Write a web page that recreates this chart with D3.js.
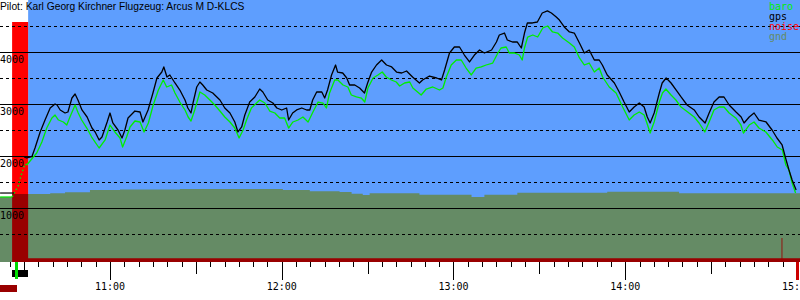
<!DOCTYPE html>
<html><head><meta charset="utf-8">
<script src="https://cdn.jsdelivr.net/npm/d3@7"></script>
<style>html,body{margin:0;padding:0;background:#fff;overflow:hidden}</style>
</head><body><svg id="c" width="800" height="300"></svg>
<script>
const title = "Pilot: Karl Georg Kirchner Flugzeug: Arcus M D-KLCS";
const legendNames = ["baro","gps","noise","gnd"];
const legendColors = ["#00ee00","#000000","#ff0000","#658b65"];
const altSolid = [1000,2000,3000,4000];
const altDashed = [500,1500,2500,3500,4500];
const altLabels = ["1000","2000","3000","4000"];
const hourLabels = ["11:00","12:00","13:00","14:00","15:00"];
// time values: minutes after 10:00, altitude in m
const gpsGround = [[21.6,1288],[26.5,1288]];
const baroGround = [[21.6,1212],[25.8,1212]];
const baroClimb = [[25.8,1212],[27.9,1423],[29.3,1692],[30.3,1846],[30.9,1827]];
const gps = [[30.0,1981],[30.9,1962],[32.7,1987],[33.8,2154],[35.6,2462],[37.3,2692],[39.1,2923],[40.8,3000],[41.5,2981],[42.6,2885],[44.3,2827],[45.3,2846],[46.7,3115],[47.8,3192],[48.8,3077],[50.2,2885],[52.0,2750],[53.7,2538],[54.8,2462],[56.2,2308],[57.2,2365],[59.0,2654],[60.0,2827],[61.0,2635],[62.8,2500],[64.2,2346],[65.2,2500],[66.3,2731],[68.7,2865],[70.5,2846],[71.5,2654],[73.3,2885],[75.0,3212],[76.4,3500],[78.1,3615],[78.8,3712],[79.9,3519],[80.9,3558],[82.7,3404],[84.4,3269],[86.2,3077],[87.2,2923],[88.3,2827],[89.0,3019],[90.3,3327],[91.4,3423],[92.4,3365],[93.8,3269],[95.9,3212],[96.6,3173],[98.4,3077],[100.1,2923],[101.9,2827],[103.6,2654],[104.7,2462],[106.0,2558],[107.1,2788],[108.8,3038],[110.6,3135],[112.3,3288],[113.4,3231],[115.1,3077],[116.9,3019],[118.3,2923],[120.0,2885],[121.7,2923],[122.4,2692],[123.8,2827],[125.2,2885],[127.0,2923],[128.7,2885],[129.8,2885],[130.8,3077],[132.2,3231],[134.0,3231],[135.0,3115],[136.0,3269],[137.4,3558],[138.8,3750],[139.5,3615],[141.3,3596],[142.7,3500],[143.7,3365],[145.5,3365],[147.2,3308],[148.9,3212],[150.0,3404],[151.4,3615],[153.1,3750],[154.9,3846],[156.6,3750],[158.4,3712],[160.1,3615],[161.9,3596],[163.6,3635],[165.7,3519],[168.1,3404],[169.2,3462],[171.6,3538],[174.1,3500],[175.8,3462],[176.9,3654],[178.6,3981],[180.3,4096],[182.1,4096],[183.8,3942],[185.6,3808],[187.3,3942],[189.1,4038],[190.8,3981],[193.3,4038],[195.0,4192],[196.0,4327],[197.8,4365],[198.8,4231],[200.6,4192],[202.3,4192],[203.7,4077],[204.8,4365],[205.8,4558],[207.6,4558],[209.3,4577],[211.0,4750],[212.8,4790],[214.2,4750],[215.9,4673],[217.0,4615],[218.7,4481],[220.5,4385],[222.2,4365],[224.0,4173],[225.7,3981],[227.4,4038],[229.2,3846],[230.9,3846],[232.0,3750],[233.7,3558],[236.2,3404],[237.9,3231],[239.6,3038],[241.4,2846],[243.1,2942],[244.9,3019],[246.6,2942],[247.7,2750],[248.7,2635],[250.1,2827],[251.9,3212],[252.9,3404],[254.3,3500],[256.0,3404],[257.8,3269],[259.5,3135],[261.6,2981],[264.1,2885],[265.8,2750],[267.9,2635],[269.3,2827],[271.0,3038],[272.8,3135],[274.5,3135],[276.3,2981],[278.7,2846],[280.5,2750],[281.5,2635],[283.3,2750],[285.0,2827],[286.7,2692],[289.2,2654],[291.3,2500],[293.0,2346],[294.8,2212],[296.2,1923],[297.2,1731],[298.3,1538],[299.7,1346]];
const baro = [[30.9,1827],[34.4,2058],[36.2,2269],[37.9,2538],[39.7,2731],[40.8,2788],[42.0,2692],[43.7,2654],[44.9,2596],[46.0,2750],[47.8,2981],[48.9,2827],[50.1,2692],[51.9,2538],[53.6,2365],[56.2,2154],[58.3,2308],[60.0,2596],[61.7,2462],[63.5,2346],[64.4,2173],[65.8,2365],[67.0,2558],[68.7,2673],[70.5,2654],[71.9,2462],[73.4,2635],[75.1,2981],[76.9,3269],[78.6,3462],[79.8,3327],[81.5,3365],[82.7,3212],[84.4,3038],[86.2,2885],[87.3,2750],[88.3,2673],[89.6,2885],[91.4,3231],[93.1,3173],[94.9,3077],[96.6,2981],[98.4,2865],[100.1,2750],[101.9,2654],[103.6,2538],[105.1,2346],[106.5,2500],[107.7,2692],[109.4,2923],[111.2,3019],[112.3,3077],[114.1,3019],[115.8,2865],[117.6,2827],[119.3,2731],[121.0,2731],[122.4,2538],[123.9,2654],[125.7,2692],[127.4,2750],[129.2,2654],[130.9,2846],[132.7,3038],[134.4,3019],[135.6,2923],[136.7,3212],[138.5,3462],[139.6,3462],[141.4,3365],[143.1,3327],[144.3,3173],[146.1,3135],[147.8,3115],[149.0,3038],[150.1,3308],[151.9,3500],[153.6,3558],[155.1,3615],[156.5,3519],[158.3,3462],[160.0,3423],[161.2,3346],[162.9,3404],[164.7,3423],[165.8,3308],[168.7,3173],[170.5,3288],[172.8,3327],[175.1,3269],[176.3,3308],[177.5,3519],[179.2,3750],[181.0,3846],[182.7,3846],[184.4,3692],[186.2,3558],[187.9,3692],[189.7,3712],[191.4,3750],[193.7,3788],[195.5,3981],[196.6,4077],[198.4,4096],[199.5,3981],[201.3,3981],[203.0,3942],[204.0,3846],[204.8,4077],[205.9,4288],[207.7,4327],[209.4,4288],[211.2,4462],[212.9,4500],[214.6,4385],[216.4,4365],[218.1,4269],[220.5,4173],[222.2,4096],[224.0,3885],[225.7,3750],[227.4,3788],[229.2,3615],[230.9,3692],[232.1,3519],[234.4,3327],[236.8,3212],[239.1,2942],[241.4,2692],[243.1,2788],[244.9,2846],[246.6,2788],[247.8,2596],[248.7,2442],[250.1,2654],[251.9,3038],[253.0,3212],[254.2,3288],[256.0,3173],[257.7,3077],[259.5,2942],[261.8,2846],[264.1,2750],[265.8,2635],[267.8,2462],[269.3,2654],[271.0,2885],[272.8,2942],[274.5,2942],[276.3,2827],[278.6,2731],[280.4,2596],[281.3,2442],[283.3,2596],[285.0,2654],[286.7,2538],[289.1,2462],[291.4,2308],[293.1,2173],[294.9,2115],[296.1,1827],[297.2,1731],[298.3,1481],[299.5,1288]];
const ground = [[21.57,1212],[25.8,1269],[39.1,1283],[44.3,1302],[53.0,1346],[63.5,1356],[84.4,1365],[120.4,1346],[129.8,1321],[140.2,1308],[144.4,1275],[148.3,1250],[150.7,1283],[168.1,1256],[186.3,1212],[190.8,1256],[202.3,1294],[233.7,1313],[258.8,1283],[301.05,1275]];
const noise = [[21.57,0],[25.8,100],[31.4,1.6],[294.6,10],[294.9,1.6],[301.05,1.6]];
const engineRun = [25.8,31.4];
const release = 27.2;
const landing = 300.1;
const towMark = [21.57,27.5];

const base = new Date(2020,0,1,10,0,0).getTime();
const T = m => new Date(base + m*60000);
const svg = d3.select("#c");
const W = 800;
const x = d3.scaleTime().domain([T(21.57), T(301.05)]).range([0, W]);
const y = d3.scaleLinear().domain([0, 5000]).range([260, 0]);
const ny = d3.scaleLinear().domain([0, 100]).range([262, 22]);
const bottom = ny(0);

const BLUE = "#5e9efe", GND = "#658b65", DRED = "#990000";

svg.append("rect").attr("width",W).attr("height",300).attr("fill","#fff");
// sky
svg.append("rect").attr("x", x(T(engineRun[1]))).attr("y",0)
  .attr("width", W - x(T(engineRun[1]))).attr("height", bottom).attr("fill", BLUE);
// noise (bright red)
const noiseArea = d3.area().curve(d3.curveStepAfter)
  .x(d => x(T(d[0]))).y0(bottom).y1(d => ny(d[1]));
svg.append("path").datum(noise).attr("d", noiseArea).attr("fill","#ff0000");
// ground
const groundArea = d3.area().curve(d3.curveStepAfter)
  .x(d => x(T(d[0]))).y0(bottom).y1(d => y(d[1]));
svg.append("clipPath").attr("id","gclip").append("path").datum(ground).attr("d", groundArea);
svg.append("path").datum(ground).attr("d", groundArea).attr("fill", GND);
svg.append("path").datum(noise).attr("d", noiseArea).attr("fill", DRED).attr("clip-path","url(#gclip)");

// grid
const g = svg.append("g").attr("shape-rendering","crispEdges");
g.selectAll(".s").data(altSolid).join("line")
  .attr("x1",0).attr("x2",W).attr("y1",d=>Math.round(y(d))+0.5).attr("y2",d=>Math.round(y(d))+0.5)
  .attr("stroke","#000").attr("stroke-width",1);
g.selectAll(".d").data(altDashed).join("line")
  .attr("x1",0).attr("x2",W).attr("y1",d=>Math.round(y(d))+0.5).attr("y2",d=>Math.round(y(d))+0.5)
  .attr("stroke","#000").attr("stroke-width",1).attr("stroke-dasharray","3,3");

// lines
const line = d3.line().x(d => x(T(d[0]))).y(d => y(d[1]));
svg.append("path").datum(baroGround).attr("d", line).attr("fill","none").attr("stroke","#00ee00").attr("stroke-width",1.2);
svg.append("path").datum(baroClimb).attr("d", line).attr("fill","none").attr("stroke","#00ee00").attr("stroke-width",1.5).attr("stroke-dasharray","1.5,2.5");
svg.append("path").datum(baro).attr("d", line).attr("fill","none").attr("stroke","#00ee00").attr("stroke-width",1.3).attr("stroke-linejoin","round");
svg.append("path").datum(gpsGround).attr("d", line).attr("fill","none").attr("stroke","#000").attr("stroke-width",1.2);
svg.append("path").datum(gps).attr("d", line).attr("fill","none").attr("stroke","#000").attr("stroke-width",1.3).attr("stroke-linejoin","round");

// y labels
svg.selectAll(".yl").data(altLabels).join("text")
  .attr("x",0).attr("y", d => y(+d) + 11)
  .attr("font-family","DejaVu Sans Mono").attr("font-size",10).attr("fill","#000")
  .text(d => d);

// title
svg.append("text").attr("x",0).attr("y",10).attr("font-family","Liberation Sans, Arial")
  .attr("font-size",10.25).attr("fill","#000").text(title);

// legend
svg.selectAll(".lg").data(legendNames).join("text")
  .attr("x",769).attr("y",(d,i)=>9.5 + i*10.2)
  .attr("font-family","DejaVu Sans Mono").attr("font-size",10)
  .attr("fill",(d,i)=>legendColors[i]).text(d=>d);

// x axis ticks
const ticks = d3.timeMinute.every(5).range(T(25), T(301));
const ax = svg.append("g").attr("shape-rendering","crispEdges");
ax.selectAll("line").data(ticks).join("line")
  .attr("x1", d => Math.round(x(d))+0.5).attr("x2", d => Math.round(x(d))+0.5)
  .attr("y1", 262).attr("y2", d => 262 + (d.getMinutes()===0 ? 18 : d.getMinutes()===30 ? 12 : 5))
  .attr("stroke","#000");
const parseHM = d3.timeParse("%H:%M");
svg.selectAll(".xl").data(hourLabels).join("text")
  .attr("x", d => { const p = parseHM(d); return x(T((p.getHours()-10)*60 + p.getMinutes())); })
  .attr("y", 290).attr("text-anchor","middle")
  .attr("font-family","DejaVu Sans Mono").attr("font-size",10).attr("fill","#000")
  .text(d => d);

// markers
const mk = svg.append("g").attr("shape-rendering","crispEdges");
mk.append("rect").attr("x", x(T(engineRun[0]))).attr("y",270)
  .attr("width", x(T(engineRun[1])) - x(T(engineRun[0]))).attr("height",7).attr("fill","#000");
mk.append("rect").attr("x", x(T(release))-1).attr("y",262).attr("width",3).attr("height",17).attr("fill","#00dd00");
mk.append("rect").attr("x", x(T(towMark[0]))).attr("y",285)
  .attr("width", x(T(towMark[1])) - x(T(towMark[0]))).attr("height",7).attr("fill",DRED);
mk.append("rect").attr("x", x(T(landing))-1).attr("y",262).attr("width",3).attr("height",18).attr("fill","#cc0000");
</script></body></html>
